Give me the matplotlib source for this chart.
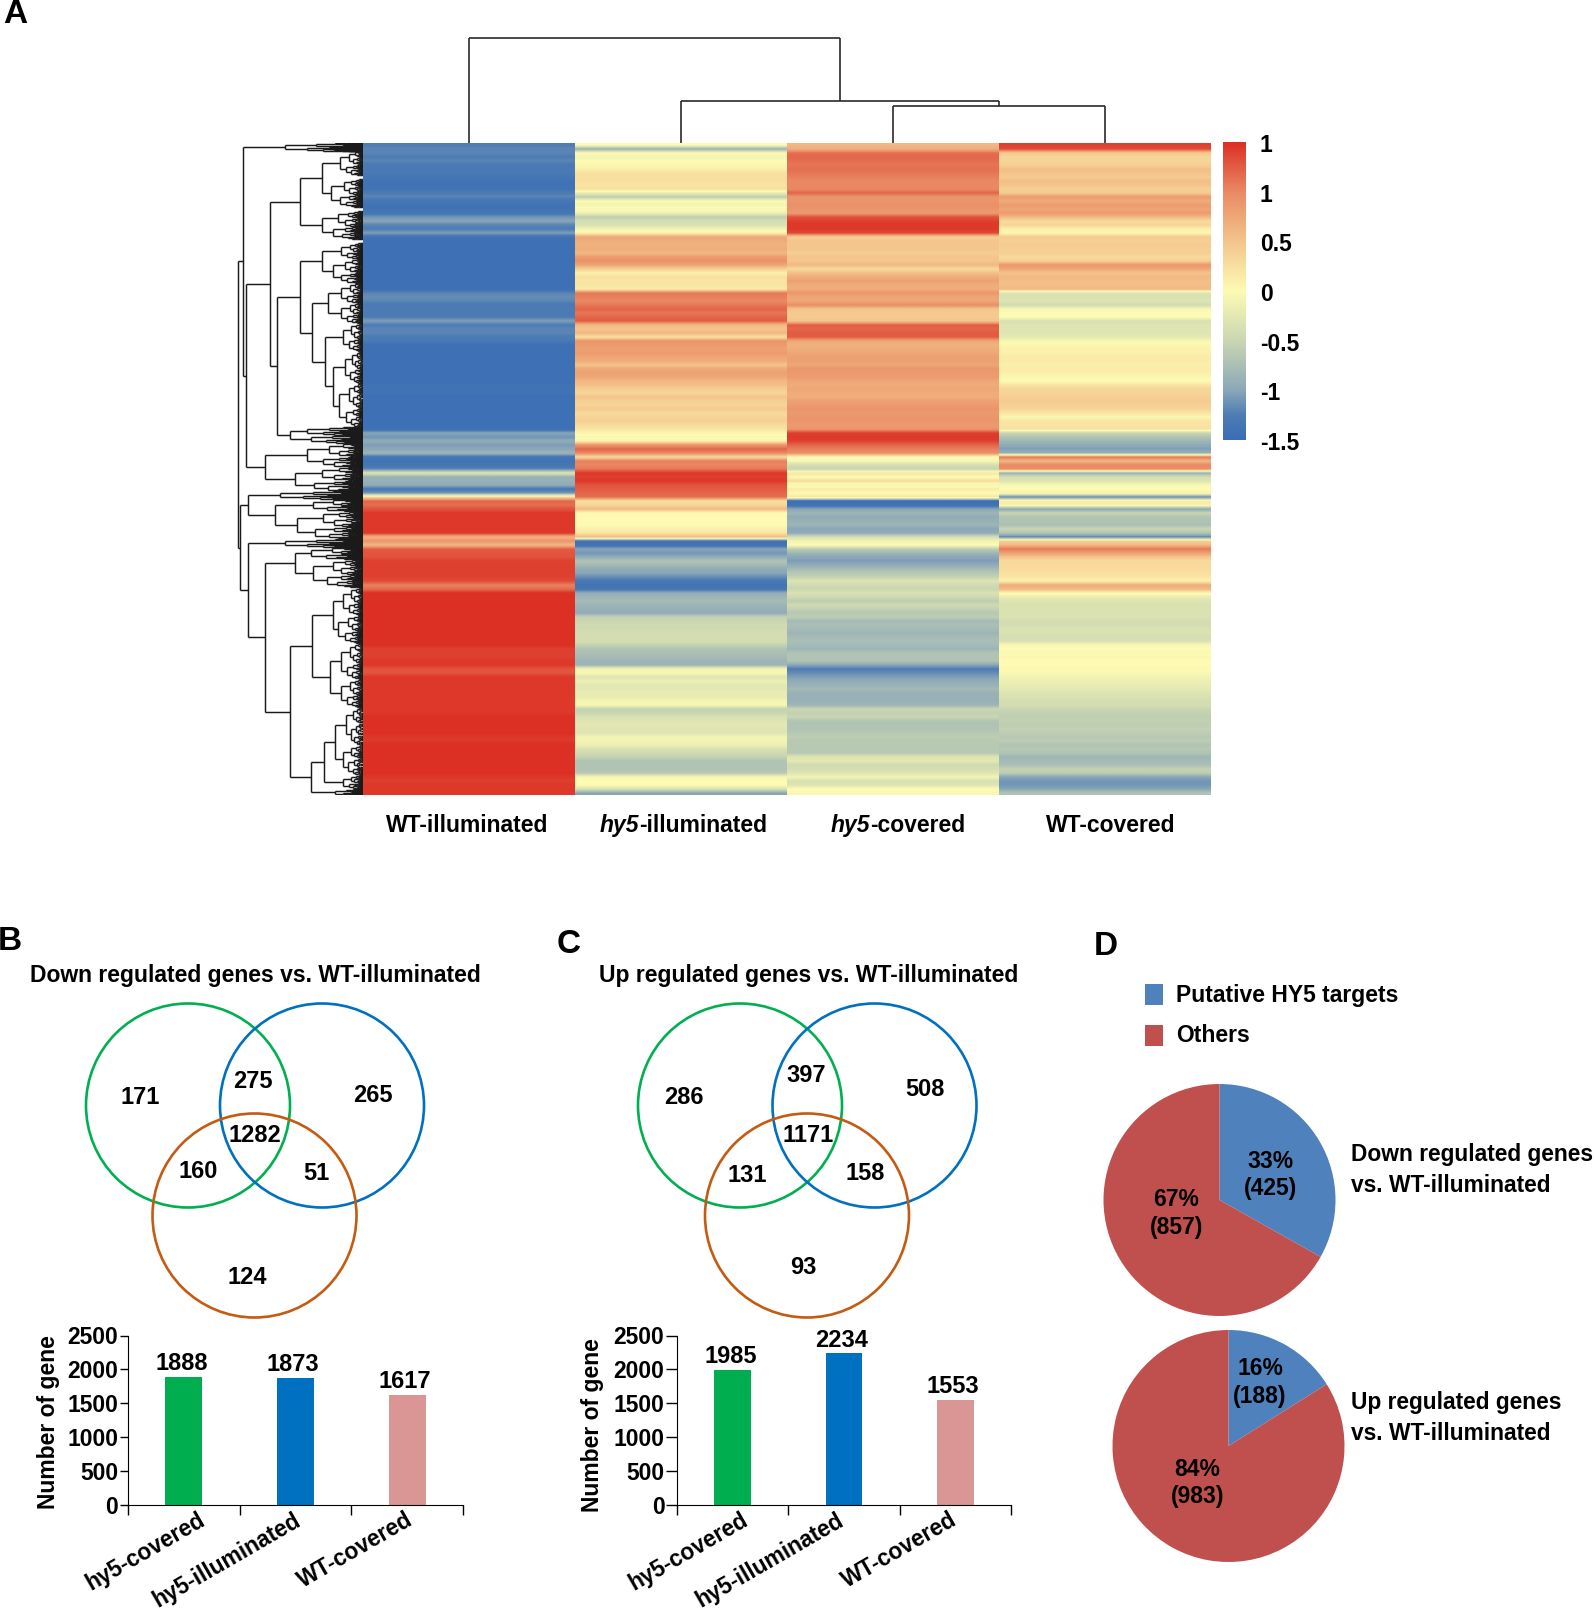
import numpy as np
import matplotlib
matplotlib.use("Agg")
import matplotlib.pyplot as plt
from matplotlib.collections import LineCollection
from matplotlib.colors import LinearSegmentedColormap, Normalize
from matplotlib.patches import Circle, Rectangle
from matplotlib.transforms import ScaledTranslation

plt.rcParams['font.family'] = ['Liberation Sans', 'DejaVu Sans']
plt.rcParams['font.weight'] = 'bold'

W, H = 1594, 1609

# heatmap rows, one list per sample
wt_illuminated = [
    -1.25, -1.2, -1.2, -1.25, -1.2, -1.3, -1.3, -1.3, -1.35, -1.4,
    -1.4, -1.4, -1.25, -1.2, -1.35, -1.4, -1.4, -1.35, -1.1, -1.0,
    -1.2, -1.25, -1.05, -1.4, -1.45, -1.45, -1.45, -1.45, -1.45, -1.45,
    -1.45, -1.45, -1.45, -1.45, -1.45, -1.45, -1.45, -1.2, -1.15, -1.2,
    -1.3, -1.25, -1.3, -1.25, -1.05, -1.25, -1.2, -1.2, -1.25, -1.3,
    -1.45, -1.45, -1.45, -1.45, -1.45, -1.45, -1.45, -1.45, -1.45, -1.45,
    -1.4, -1.4, -1.4, -1.45, -1.45, -1.45, -1.45, -1.45, -1.45, -1.45,
    -1.45, -1.45, -1.0, -1.1, -0.95, -1.05, -1.0, -0.85, -1.35, -1.4,
    -1.35, -1.2, -0.3, -0.9, -0.9, -0.95, -1.3, -1.1, 0.3, 1.2,
    1.15, 1.3, 1.45, 1.45, 1.45, 1.45, 1.45, 1.45, 0.65, 0.9,
    0.6, 1.25, 1.3, 1.3, 1.4, 1.4, 1.4, 1.4, 1.4, 1.35,
    1.05, 1.15, 1.5, 1.5, 1.5, 1.5, 1.5, 1.5, 1.5, 1.5,
    1.5, 1.5, 1.5, 1.5, 1.5, 1.5, 1.4, 1.4, 1.4, 1.45,
    1.45, 1.3, 1.3, 1.45, 1.45, 1.45, 1.45, 1.45, 1.45, 1.45,
    1.45, 1.45, 1.45, 1.5, 1.5, 1.5, 1.5, 1.5, 1.45, 1.45,
    1.5, 1.5, 1.5, 1.5, 1.5, 1.5, 1.5, 1.5, 1.45, 1.4,
    1.45, 1.45, 1.45]
hy5_illuminated = [
    0, -0.9, 0, -0.1, 0, 0.05, 0.1, 0.25, 0.25, 0.25,
    0.2, 0.25, -0.2, -0.6, 0, -0.1, 0.05, -0.15, -0.6, -0.4,
    -0.35, -0.1, 0.1, 0.75, 0.7, 0.65, 0.7, 0.6, 0.85, 0.95,
    0.75, 0.4, 0.1, 0.25, 0.2, 0.2, 0.15, 1.1, 1.05, 1.0,
    1.1, 1.2, 1.1, 1.2, 1.25, 0.6, 0.5, 0.6, 0.25, 0.9,
    0.85, 0.8, 0.85, 0.75, 0.7, 0.5, 0.75, 0.8, 0.75, 0.6,
    0.55, 0.4, 0.35, 0.5, 0.4, 0.35, 0.45, 0.3, 0.35, 0.4,
    0.3, 0.2, 0.05, -0.05, 0.1, 0.9, 1.2, 1.0, 0.3, 1.05,
    1.0, 1.1, 1.45, 1.4, 1.45, 1.3, 1.25, 1.2, 1.15, 0.25,
    0.35, 0.6, 0, 0, 0, 0, 0.1, 0.2, 0.6, -1.4,
    -1.4, -1.0, -1.1, -0.95, -0.7, -0.8, -0.95, -1.0, -1.15, -1.3,
    -1.4, -1.35, -0.95, -0.85, -0.8, -0.85, -0.9, -0.95, -0.55, -0.5,
    -0.45, -0.45, -0.4, -0.4, -0.4, -0.55, -0.7, -0.75, -0.8, -0.85,
    -0.85, -0.1, -0.05, -0.3, -0.15, -0.25, -0.25, -0.2, -0.2, -0.1,
    -0.05, -0.55, -0.5, -0.35, -0.3, -0.25, -0.3, -0.3, -0.1, -0.1,
    -0.15, -0.35, -0.45, -0.55, -0.7, -0.7, -0.7, -0.65, -0.05, 0,
    0, -0.35, -1.0]
hy5_covered = [
    0.6, 0.7, 1.15, 1.2, 1.15, 1.1, 1.15, 1.1, 1.05, 1.0,
    1.0, 1.0, 1.2, 0.9, 0.9, 0.95, 0.9, 0.85, 1.3, 1.4,
    1.45, 1.45, 1.35, 0.4, 0.5, 0.5, 0.5, 0.4, 0.5, 0.5,
    0.6, 0.3, 0.55, 0.7, 0.8, 0.7, 0.7, 0.9, 0.75, 0.75,
    0.95, 0.5, 0.45, 0.45, 0.5, 1.25, 1.2, 1.25, 1.25, 0.75,
    0.65, 0.7, 0.75, 0.8, 0.8, 0.75, 0.9, 0.85, 0.85, 0.75,
    0.7, 0.75, 0.7, 0.7, 0.8, 0.85, 0.9, 0.85, 0.9, 0.9,
    0.85, 0.9, 1.4, 1.45, 1.4, 1.2, 1.05, 0.95, 0, -0.05,
    -0.4, -0.5, 0.2, 0, 0.3, -0.1, 0.15, 0, 0.2, -1.45,
    -1.4, -1.0, -0.85, -0.95, -0.9, -0.85, -1.0, -0.95, -0.4, -0.1,
    0, -0.6, -0.85, -1.0, -1.05, -0.95, -0.8, -0.65, -0.55, -0.3,
    -0.45, -0.5, -0.35, -0.45, -0.6, -0.45, -0.55, -0.65, -0.6, -0.8,
    -0.75, -0.8, -0.85, -0.8, -0.75, -0.8, -0.85, -0.7, -0.7, -0.7,
    -1.0, -1.25, -1.15, -1.05, -0.95, -0.9, -0.8, -0.9, -0.9, -0.9,
    -0.85, -0.5, -0.55, -0.5, -0.7, -0.7, -0.7, -0.65, -0.6, -0.65,
    -0.65, -0.65, -0.65, -0.3, -0.25, -0.45, -0.4, -0.3, -0.1, -0.35,
    -0.3, 0, -0.05]
wt_covered = [
    1.4, 1.35, 0.45, 0.35, 0.35, 0.4, 0.55, 0.5, 0.45, 0.55,
    0.5, 0.4, 0.45, 0.85, 0.7, 0.85, 0.75, 0.85, 0.6, 0.3,
    0.35, 0.1, 0.05, 0.45, 0.4, 0.45, 0.4, 0.4, 0.3, 0.4,
    0.9, 0.75, 0.5, 0.6, 0.55, 0.55, 0.6, -0.3, -0.35, -0.3,
    -0.45, -0.05, 0, 0, -0.35, -0.3, -0.3, -0.3, -0.25, -0.05,
    0.05, 0.1, 0.1, 0.15, 0.15, 0.1, 0.15, 0.1, 0.05, 0,
    0.2, 0.35, 0.35, 0.4, 0.45, 0.4, 0.35, 0.2, 0.05, 0.2,
    0.2, 0.25, -0.5, -0.7, -0.85, -0.95, -1.05, -0.9, 1.1, 0.6,
    1.0, 0.95, -0.9, -0.4, -0.3, -0.05, 0, 0.1, -1.2, 0.15,
    0.1, -1.0, -0.5, -0.7, -0.7, -0.75, -0.5, -0.7, -1.2, 0.4,
    0.6, 1.1, 0.8, 0.5, 0.3, 0.3, 0.3, 0.25, 0.2, 0.1,
    0.7, 0.6, 0.05, -0.2, -0.3, -0.35, -0.35, -0.35, -0.35, -0.4,
    -0.4, -0.35, -0.35, -0.4, -0.35, -0.05, 0, -0.05, 0.05, 0,
    0, 0.05, -0.05, -0.1, -0.15, -0.2, -0.25, -0.3, -0.35, -0.4,
    -0.4, -0.5, -0.55, -0.6, -0.55, -0.6, -0.55, -0.6, -0.65, -0.6,
    -0.7, -0.65, -0.7, -0.85, -0.8, -0.75, -0.55, -0.6, -1.0, -1.1,
    -1.1, -1.0, -0.7]
heat_columns = [wt_illuminated, hy5_illuminated, hy5_covered, wt_covered]

cbar_ticks = [1.5, 1, 0.5, 0, -0.5, -1, -1.5]
cbar_labels = ['1', '1', '0.5', '0', '-0.5', '-1', '-1.5']

# (height, upper, lower) = merge, (height, first row, last row) = tight cluster of genes
row_tree = (125,
    (120,
        (78, 0, 2),
        (117,
            (93,
                (63,
                    (41, (23, 2, 8), (32, 9, 16)),
                    (41, 17, 24)),
                (86,
                    (63,
                        (41, (22, 25, 29), (30, 29, 35)),
                        (51,
                            (35, (22, 35, 40), (22, 40, 45)),
                            (38, (20, 45, 52), (30, (18, 52, 60), (24, 60, 71))))),
                    (73, (56, 71, 73), (52, 73, 75)))),
            (98, (56, 75, 81), (68, 81, 87)))),
    (123,
        (115,
            (83, 87, 89),
            (88, (50, 89, 92), (66, 92, 99))),
        (115,
            (78, 99, 101),
            (98,
                (68, (52, 101, 104), (50, 104, 111)),
                (73,
                    (51,
                        (30, (20, 111, 118), (25, 118, 125)),
                        (33, (22, 125, 134), (22, 134, 141))),
                    (52,
                        (39, (28, 141, 158), (20, 158, 161.5)),
                        (28, 161.5, 163)))))))
col_tree = (105, 0, (42, 1, (37, 2, 3)))

# Venn region counts and bars, panels B and C
venn_b = ['171', '275', '265', '1282', '160', '51', '124']
venn_c = ['286', '397', '508', '1171', '131', '158', '93']
bar_names = ['hy5-covered', 'hy5-illuminated', 'WT-covered']
bars_b = [1888, 1873, 1617]
bars_c = [1985, 2234, 1553]
bar_colors = ['#00AE4F', '#0070C0', '#D99694']

# Panel D: putative targets, others
pie_down = [425, 857]
pie_up = [188, 983]
pie_colors = ['#4F81BD', '#C0504D']

heat_cmap = LinearSegmentedColormap.from_list('heat', [
    (0.0, '#3A6DB5'), (1 / 12, '#4F7DB4'), (1 / 6, '#8BA8B8'), (2 / 6, '#CBD7B2'), (0.5, '#FDFBB4'),
    (4 / 6, '#F4C58D'), (5 / 6, '#EA8A64'), (1.0, '#DC3024')])
heat_norm = Normalize(-1.5, 1.5)


def px_axes(x0, y0, x1, y1):
    return fig.add_axes([x0 / W, 1 - y1 / H, (x1 - x0) / W, (y1 - y0) / H])


def fan(h, r0, r1, segs, depth=6):
    # tight clusters: too many genes to read, drawn as a shrinking fan
    mid = (r0 + r1) / 2
    if depth == 0:
        segs.append([(h, mid), (0, mid)])
        return mid
    cut = r0 + (r1 - r0) * (0.42 if depth % 2 else 0.56)
    a = fan(h * 0.6, r0, cut, segs, depth - 1)
    b = fan(h * 0.72, cut, r1, segs, depth - 1)
    segs.append([(h, a), (h, b)])
    segs.append([(h, a), (h * 0.6, a)])
    segs.append([(h, b), (h * 0.72, b)])
    return (a + b) / 2


def walk_rows(node, segs):
    h, up, low = node
    if not isinstance(up, tuple):
        return h, fan(h, up, low, segs)
    hu, yu = walk_rows(up, segs)
    hl, yl = walk_rows(low, segs)
    segs += [[(h, yu), (h, yl)], [(h, yu), (hu, yu)], [(h, yl), (hl, yl)]]
    return h, (yu + yl) / 2


def walk_cols(node, segs):
    if not isinstance(node, tuple):
        return 0, node + 0.5
    h, a, b = node
    ha, xa = walk_cols(a, segs)
    hb, xb = walk_cols(b, segs)
    segs += [[(xa, h), (xb, h)], [(xa, h), (xa, ha)], [(xb, h), (xb, hb)]]
    return h, (xa + xb) / 2


def venn(cx, cy, counts, spots):
    for (x, y), c in zip(cx, ['#00B050', '#0070C0', '#C55A11']):
        page.add_patch(Circle((x, y), cy, fill=False, ec=c, lw=1.9))
    for t, (x, y) in zip(counts, spots):
        page.text(x, y, t, ha='center', va='center', fontsize=17)


def bar_panel(rect, values, shifts, label_x, label_y, tick_len):
    ax = px_axes(*rect)
    ax.bar(range(3), values, width=0.33, color=bar_colors)
    ax.set_xlim(-0.5, 2.5)
    ax.set_ylim(0, 2500)
    ax.set_yticks(range(0, 2501, 500))
    ax.set_xticks([-0.5, 0.5, 1.5, 2.5])
    ax.set_xticklabels([])
    ax.tick_params(axis='y', labelsize=16.5, length=tick_len, width=1, pad=1)
    ax.tick_params(axis='x', length=7, width=1)
    ax.spines[['top', 'right']].set_visible(False)
    for i, v in enumerate(values):
        ax.text(i - 0.02, v + 28, str(v), ha='center', va='bottom', fontsize=17)
        off = ScaledTranslation(shifts[i] / 100, -4 / 100, fig.dpi_scale_trans)
        ax.text(i, 0, bar_names[i], rotation=30, rotation_mode='anchor', ha='right',
                va='top', fontsize=16.4, transform=ax.transData + off)
    page.text(label_x, label_y, 'Number of gene', rotation=90, ha='center', va='center',
              fontsize=16.5)


fig = plt.figure(figsize=(W / 100, H / 100), dpi=100)

# page-sized axes for text and Venn circles, in picture pixels
page = fig.add_axes([0, 0, 1, 1], zorder=5)
page.set_xlim(0, W)
page.set_ylim(H, 0)
page.axis('off')

# Panel A heatmap
ax = px_axes(363, 143, 1211, 795)
n_rows = len(wt_illuminated)
for i, col in enumerate(heat_columns):
    ax.imshow(np.array(col)[:, None], cmap=heat_cmap, norm=heat_norm, aspect='auto',
              interpolation='bilinear', extent=(i, i + 1, n_rows, 0))
ax.set_xlim(0, 4)
ax.set_ylim(n_rows, 0)
ax.axis('off')

ax = px_axes(237, 143, 363, 795)
segs = []
walk_rows(row_tree, segs)
ax.add_collection(LineCollection(segs, colors='#1a1a1a', linewidths=1.05))
ax.set_xlim(126, 0)
ax.set_ylim(n_rows, 0)
ax.axis('off')

ax = px_axes(363, 33, 1211, 143)
segs = []
walk_cols(col_tree, segs)
ax.add_collection(LineCollection(segs, colors='#2a2a2a', linewidths=1.2))
ax.set_xlim(0, 4)
ax.set_ylim(0, 110)
ax.axis('off')

ax = px_axes(1223, 142, 1246, 440)
ax.imshow(np.linspace(1.5, -1.5, 256)[:, None], cmap=heat_cmap, norm=heat_norm, aspect='auto',
          extent=(0, 1, -1.5, 1.5))
ax.set_xticks([])
ax.yaxis.tick_right()
ax.set_yticks(cbar_ticks)
ax.set_yticklabels(cbar_labels, fontsize=16.5, ha='left')
ax.tick_params(axis='y', length=0, pad=10)
for lab in ax.get_yticklabels():
    lab.set_transform(lab.get_transform() + ScaledTranslation(0, -1 / 100, fig.dpi_scale_trans))
ax.spines[:].set_visible(False)

for x, y, t in [(467, 825, 'WT-illuminated'), (1111, 825, 'WT-covered')]:
    page.text(x, y, t, ha='center', va='center', fontsize=16.5)
for x, t in [(639, '-illuminated'), (870, '-covered')]:
    page.text(x, 825, 'hy5', ha='right', va='center', fontsize=16.5, style='italic')
    page.text(x, 825, t, ha='left', va='center', fontsize=16.5)

for x, y, t in [(15, 14, 'A'), (10, 941, 'B'), (569, 944, 'C'), (1106, 946, 'D')]:
    page.text(x, y, t, ha='center', va='center', fontsize=24)

# Panels B, C
page.text(255, 975, 'Down regulated genes vs. WT-illuminated', ha='center', va='center', fontsize=16.5)
page.text(809, 975, 'Up regulated genes vs. WT-illuminated', ha='center', va='center', fontsize=16.5)
venn([(188, 1105.5), (322, 1105.5), (254.5, 1215.5)], 102, venn_b,
     [(140.5, 1098), (253, 1081), (373, 1096), (255, 1135), (198, 1172), (316, 1174), (247.5, 1277)])
venn([(740, 1105.5), (874.5, 1105.5), (807, 1215.5)], 102, venn_c,
     [(684, 1097), (806, 1076), (925, 1090), (808, 1136), (747, 1175), (865, 1174), (803, 1268)])
bar_panel((128, 1335.5, 463, 1504.5), bars_b, [14, -2, -2], 49, 1422, 6)
bar_panel((677, 1335.5, 1011, 1504.5), bars_c, [8, -8, -6], 593, 1425, 8)

# Panel D
for y, c, t in [(984, pie_colors[0], 'Putative HY5 targets'), (1025, pie_colors[1], 'Others')]:
    page.add_patch(Rectangle((1145.5, y), 18, 20.5, fc=c, ec='none'))
    page.text(1176, y + 11, t, ha='left', va='center', fontsize=16.5)

for rect, vals, spots in [
    ((1103, 1084, 1336, 1316), pie_down, [(1270.5, 1175), (1176.5, 1213.5)]),
    ((1112, 1330, 1345, 1562), pie_up, [(1260, 1382.5), (1197.5, 1483)]),
]:
    ax = px_axes(*rect)
    ax.pie(vals, colors=pie_colors, startangle=90, counterclock=False, radius=1)
    ax.set_xlim(-1, 1)
    ax.set_ylim(-1, 1)
    total = sum(vals)
    for v, (x, y) in zip(vals, spots):
        page.text(x, y, '%d%%\n(%d)' % (round(100 * v / total), v), ha='center', va='center',
                  fontsize=16.5, linespacing=1.25)

page.text(1351, 1154, 'Down regulated genes', ha='left', va='center', fontsize=16.4)
page.text(1351, 1186, 'vs. WT-illuminated', ha='left', va='center', fontsize=16.4)
page.text(1351, 1402, 'Up regulated genes', ha='left', va='center', fontsize=16.4)
page.text(1351, 1434, 'vs. WT-illuminated', ha='left', va='center', fontsize=16.4)

fig.savefig('out.png', dpi=100)
